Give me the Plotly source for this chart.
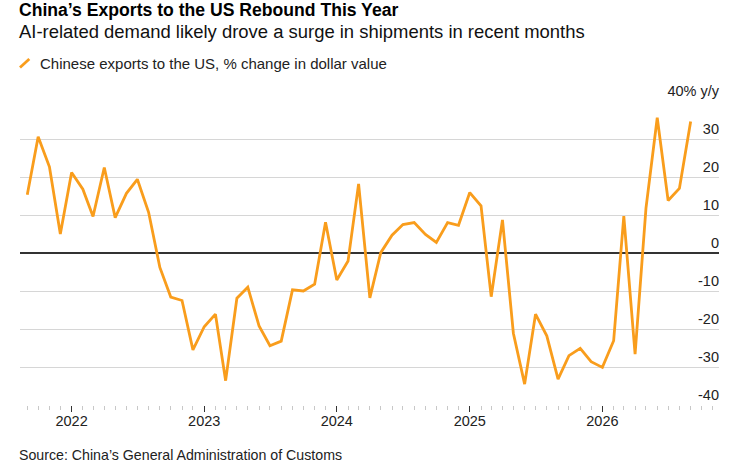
import pandas as pd
import plotly.graph_objects as go

# monthly y/y % change, Sep 2021 .. Sep 2026
months = pd.date_range("2021-09-01", "2026-09-01", freq="MS")
exports_yoy = [
    15.3, 30.6, 22.7, 5.0,
    21.2, 16.8, 9.6, 22.5, 9.3, 15.7, 19.4, 10.7, -3.8, -11.6, -12.5, -25.5,
    -19.4, -16.1, -33.6, -11.9, -9.0, -19.2, -24.4, -23.2, -9.7, -10.0, -8.2, 8.1,
    -7.1, -2.1, 18.2, -11.8, 0.1, 4.7, 7.5, 8.0, 4.9, 2.8, 8.0, 7.3,
    15.9, 12.4, -11.5, 8.7, -21.1, -34.5, -16.1, -21.8, -33.2, -27.0, -25.1, -28.6,
    -30.1, -23.1, 9.7, -26.6, 11.8, 35.6, 13.8, 17.0, 34.6,
]

y_ticks = [-40, -30, -20, -10, 0, 10, 20, 30, 40]
y_labels = ["-40", "-30", "-20", "-10", "0", "10", "20", "30", "40% y/y"]

orange = "#F99D1C"
font = "Liberation Sans, Arial, sans-serif"

fig = go.Figure()
fig.add_trace(go.Scatter(
    x=months, y=exports_yoy, mode="lines",
    line=dict(color=orange, width=2.8),
    showlegend=False, hoverinfo="x+y",
))

fig.update_layout(
    template="none",
    width=741, height=464,
    margin=dict(l=20, r=22, t=101, b=59, autoexpand=False),
    paper_bgcolor="white", plot_bgcolor="white",
    font=dict(family=font, size=14, color="#222"),
    xaxis=dict(
        range=["2021-08-12", "2026-11-18"], automargin=False,
        tickmode="linear", tick0="2022-01-01", dtick="M12",
        tickformat="%Y", ticks="outside", ticklen=6, tickwidth=1,
        tickcolor="#333", showgrid=False, showline=False, zeroline=False,
        tickfont=dict(size=14.5, color="#222"), ticklabelstandoff=-3,
        minor=dict(tickmode="linear", tick0="2021-09-01", dtick="M1",
                   ticks="outside", ticklen=4, tickcolor="#c8c8c8", showgrid=False),
    ),
    yaxis=dict(
        range=[-40, 40], side="right", tickmode="array", automargin=False,
        tickvals=y_ticks, ticktext=y_labels,
        ticklabelposition="inside top", ticklabeloverflow="allow",
        ticklabelstandoff=-3,
        ticks="", showgrid=True, gridcolor="#d6d6d6", gridwidth=1,
        zeroline=True, zerolinecolor="#333", zerolinewidth=1.5,
        showline=False, tickfont=dict(size=14.5, color="#222"),
    ),
)

fig.add_annotation(
    text="<b>China’s Exports to the US Rebound This Year</b>",
    xref="paper", yref="paper", x=0, y=1 + 91 / 304,
    xanchor="left", yanchor="middle", showarrow=False, xshift=-3,
    font=dict(size=17.6, color="#000"),
)
fig.add_annotation(
    text="AI-related demand likely drove a surge in shipments in recent months",
    xref="paper", yref="paper", x=0, y=1 + 70 / 304,
    xanchor="left", yanchor="middle", showarrow=False, xshift=-3,
    font=dict(size=18.45, color="#111"),
)
fig.add_annotation(
    text="Chinese exports to the US, % change in dollar value",
    xref="paper", yref="paper", x=20 / 699, y=1 + 38 / 304,
    xanchor="left", yanchor="middle", showarrow=False, xshift=-2,
    font=dict(size=15, color="#222"),
)
fig.add_shape(
    type="line", xref="paper", yref="paper",
    x0=0, y0=1 + 33.5 / 304, x1=9.3 / 699, y1=1 + 42 / 304,
    line=dict(color=orange, width=2.8),
)
fig.add_annotation(
    text="Source: China’s General Administration of Customs",
    xref="paper", yref="paper", x=0, y=-50 / 304,
    xanchor="left", yanchor="middle", showarrow=False, xshift=-3,
    font=dict(size=14.2, color="#222"),
)

# drop the default 8px body margin so the figure sits at the window's corner
fig.write_html("out.html", config={"displayModeBar": False},
               post_script="document.body.style.margin = '0';")
